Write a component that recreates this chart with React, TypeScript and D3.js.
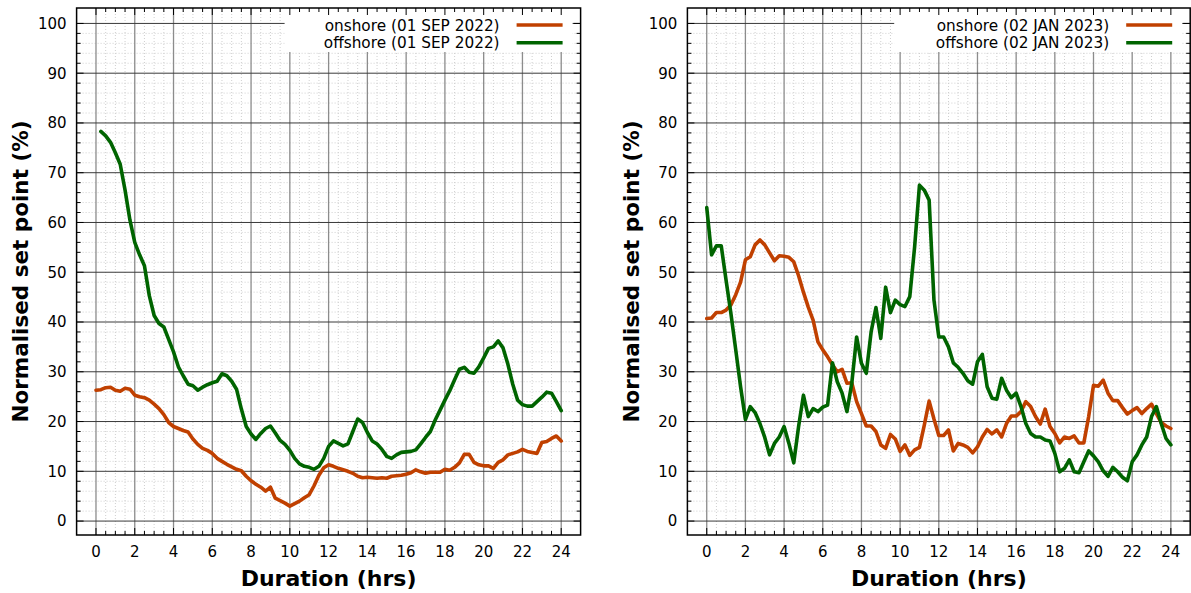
import React from 'react';
import * as d3 from 'd3';

// Sampling interval (hours) of the series
const STEP = 0.25;

// 01 SEP 2022 – onshore starts at 0 h, offshore at 0.25 h
const sepOnshoreStart = 0;
const sepOnshore = [
  26.3, 26.4, 26.8, 26.9, 26.3, 26.1, 26.7, 26.5, 25.3, 25.0, 24.8, 24.3,
  23.5, 22.6, 21.4, 19.8, 19.0, 18.6, 18.2, 17.9, 16.5, 15.4, 14.6, 14.2,
  13.6, 12.6, 12.0, 11.4, 10.9, 10.4, 10.1, 9.0, 8.1, 7.4, 6.8, 6.0,
  6.8, 4.6, 4.1, 3.6, 3.0, 3.5, 4.0, 4.7, 5.3, 7.1, 9.2, 10.7,
  11.3, 11.0, 10.6, 10.3, 10.0, 9.6, 9.0, 8.7, 8.8, 8.7, 8.6, 8.7,
  8.6, 9.0, 9.1, 9.2, 9.4, 9.7, 10.3, 9.9, 9.6, 9.8, 9.8, 9.8,
  10.4, 10.2, 10.8, 11.7, 13.4, 13.4, 11.8, 11.3, 11.1, 11.1, 10.6, 11.8,
  12.3, 13.3, 13.6, 13.9, 14.4, 14.0, 13.8, 13.6, 15.8, 16.0, 16.6, 17.1,
  16.1,
];
const sepOffshoreStart = 0.25;
const sepOffshore = [
  78.3, 77.4, 76.1, 74.0, 71.7, 66.5, 60.5, 56.0, 53.5, 51.3, 45.3,
  41.3, 39.7, 39.0, 36.5, 34.0, 31.0, 29.2, 27.5, 27.2, 26.3, 26.9, 27.4,
  27.8, 28.1, 29.6, 29.2, 28.1, 26.5, 22.5, 19.0, 17.5, 16.4, 17.6, 18.6,
  19.1, 17.7, 16.2, 15.4, 14.2, 12.6, 11.5, 11.0, 10.8, 10.4, 11.0, 12.6,
  15.0, 16.1, 15.6, 15.1, 15.5, 18.0, 20.5, 19.8, 17.8, 16.1, 15.5, 14.4,
  13.0, 12.6, 13.3, 13.8, 13.9, 14.0, 14.3, 15.5, 16.8, 18.0, 20.3, 22.3,
  24.3, 26.2, 28.4, 30.5, 30.9, 29.9, 29.7, 31.0, 32.8, 34.7, 35.0, 36.2,
  34.8, 31.5, 27.5, 24.3, 23.4, 23.1, 23.1, 24.0, 24.9, 25.9, 25.7, 24.0,
  22.2,
];

// 02 JAN 2023 – both start at 0 h
const janOnshoreStart = 0;
const janOnshore = [
  40.7, 40.8, 41.9, 41.9, 42.4, 43.4, 45.5, 48.0, 52.5, 53.1, 55.5, 56.5,
  55.5, 53.9, 52.3, 53.3, 53.2, 53.0, 52.1, 49.3, 46.0, 43.0, 40.4, 36.0,
  34.4, 33.0, 31.4, 30.0, 30.5, 27.7, 27.8, 24.0, 21.6, 19.1, 19.1, 18.0,
  15.3, 14.6, 17.4, 16.5, 14.0, 15.3, 13.2, 14.3, 14.8, 19.3, 24.1, 20.5,
  17.2, 17.2, 18.3, 14.1, 15.6, 15.3, 14.8, 13.7, 14.9, 16.9, 18.4, 17.5,
  18.3, 16.9, 19.6, 21.1, 21.1, 22.0, 24.0, 23.0, 21.0, 19.5, 22.5, 19.0,
  17.6, 15.7, 16.9, 16.6, 17.1, 15.7, 15.7, 21.0, 27.3, 27.1, 28.3, 25.7,
  24.2, 24.2, 22.8, 21.5, 22.2, 22.8, 21.6, 22.6, 23.5, 21.6, 19.8, 19.1,
  18.6,
];
const janOffshoreStart = 0;
const janOffshore = [
  63.0, 53.5, 55.3, 55.3, 48.4, 41.7, 34.4, 27.0, 20.4, 23.0, 21.8, 19.6,
  16.8, 13.3, 15.6, 16.9, 19.0, 15.6, 11.7, 19.0, 25.3, 21.0, 22.6, 22.0,
  22.9, 23.3, 31.8, 28.0, 25.7, 22.0, 27.7, 37.0, 31.7, 29.7, 38.0, 42.9,
  36.7, 47.0, 41.9, 44.4, 43.5, 43.1, 45.1, 55.1, 67.5, 66.5, 64.5, 44.4,
  37.0, 37.0, 35.0, 31.8, 30.9, 29.7, 28.2, 27.5, 32.0, 33.5, 27.0, 24.7,
  24.5, 28.7, 26.3, 24.8, 25.7, 23.0, 19.6, 17.6, 16.9, 16.9, 16.3, 16.1,
  13.6, 9.9, 10.6, 12.3, 9.9, 9.7, 11.9, 14.1, 13.1, 11.9, 10.1, 9.0,
  10.8, 9.9, 8.8, 8.1, 11.9, 13.3, 15.3, 16.9, 21.0, 23.0, 19.6, 16.6,
  15.3,
];

const xTicks = [0, 2, 4, 6, 8, 10, 12, 14, 16, 18, 20, 22, 24];
const yTicks = [0, 10, 20, 30, 40, 50, 60, 70, 80, 90, 100];
const xMinorStep = 0.5;
const yMinorStep = 2;

const xLabel = 'Duration (hrs)';
const yLabel = 'Normalised set point (%)';

const ONSHORE_COLOR = '#c04000';
const OFFSHORE_COLOR = '#006400';
const FONT = '"DejaVu Sans", Verdana, sans-serif';

type Series = { name: string; start: number; values: number[]; color: string };

const panelSep: Series[] = [
  { name: 'onshore (01 SEP 2022)', start: sepOnshoreStart, values: sepOnshore, color: ONSHORE_COLOR },
  { name: 'offshore (01 SEP 2022)', start: sepOffshoreStart, values: sepOffshore, color: OFFSHORE_COLOR },
];
const panelJan: Series[] = [
  { name: 'onshore (02 JAN 2023)', start: janOnshoreStart, values: janOnshore, color: ONSHORE_COLOR },
  { name: 'offshore (02 JAN 2023)', start: janOffshoreStart, values: janOffshore, color: OFFSHORE_COLOR },
];

const TOP = 8;
const BOTTOM = 535;

function Panel({ left, right, series }: { left: number; right: number; series: Series[] }) {
  const x = d3.scaleLinear().domain([-1, 25]).range([left, right]);
  const y = d3.scaleLinear().domain([-2.8, 103.1]).range([BOTTOM, TOP]);

  const xMinor = d3.range(xTicks[0], xTicks[xTicks.length - 1] + 0.001, xMinorStep).filter((v) => Math.abs(v / 2 - Math.round(v / 2)) > 1e-6);
  const yMinor = d3.range(yTicks[0], yTicks[yTicks.length - 1] + 0.001, yMinorStep).filter((v) => v % 10 !== 0);

  const line = d3
    .line<[number, number]>()
    .x((d) => x(d[0]))
    .y((d) => y(d[1]));

  const majLen = 7;
  const minLen = 4;
  const midY = (TOP + BOTTOM) / 2;
  const midX = (left + right) / 2;

  return (
    <g>
      {/* minor grid */}
      {xMinor.map((v) => (
        <line key={'xm' + v} x1={x(v)} x2={x(v)} y1={TOP} y2={BOTTOM} stroke="#cfcfcf" strokeWidth={1} strokeDasharray="1,2" />
      ))}
      {yMinor.map((v) => (
        <line key={'ym' + v} x1={left} x2={right} y1={y(v)} y2={y(v)} stroke="#cfcfcf" strokeWidth={1} strokeDasharray="1,2" />
      ))}
      {/* major grid */}
      {xTicks.map((v) => (
        <line key={'xg' + v} x1={x(v)} x2={x(v)} y1={TOP} y2={BOTTOM} stroke="#8c8c8c" strokeWidth={1.3} />
      ))}
      {yTicks.map((v) => (
        <line key={'yg' + v} x1={left} x2={right} y1={y(v)} y2={y(v)} stroke="#3a3a3a" strokeWidth={1} />
      ))}
      {/* legend background */}
      <rect x={right - 296} y={TOP} width={288} height={44} fill="#ffffff" />
      {/* data */}
      {series.map((s) => (
        <path
          key={s.name}
          d={line(s.values.map((v, i) => [s.start + i * STEP, v] as [number, number])) || ''}
          fill="none"
          stroke={s.color}
          strokeWidth={3.6}
          strokeLinejoin="round"
          strokeLinecap="round"
        />
      ))}
      {/* ticks */}
      {xTicks.map((v) => (
        <g key={'xt' + v}>
          <line x1={x(v)} x2={x(v)} y1={BOTTOM} y2={BOTTOM - majLen} stroke="#000" strokeWidth={1} />
          <line x1={x(v)} x2={x(v)} y1={TOP} y2={TOP + majLen} stroke="#000" strokeWidth={1} />
          <text x={x(v)} y={557} textAnchor="middle" fontSize={15} fontFamily={FONT} fill="#000">
            {v}
          </text>
        </g>
      ))}
      {xMinor.map((v) => (
        <g key={'xmt' + v}>
          <line x1={x(v)} x2={x(v)} y1={BOTTOM} y2={BOTTOM - minLen} stroke="#000" strokeWidth={1} />
          <line x1={x(v)} x2={x(v)} y1={TOP} y2={TOP + minLen} stroke="#000" strokeWidth={1} />
        </g>
      ))}
      {yTicks.map((v) => (
        <g key={'yt' + v}>
          <line x1={left} x2={left + majLen} y1={y(v)} y2={y(v)} stroke="#000" strokeWidth={1} />
          <line x1={right} x2={right - majLen} y1={y(v)} y2={y(v)} stroke="#000" strokeWidth={1} />
          <text x={left - 10} y={y(v)} dy="0.36em" textAnchor="end" fontSize={15} fontFamily={FONT} fill="#000">
            {v}
          </text>
        </g>
      ))}
      {yMinor.map((v) => (
        <g key={'ymt' + v}>
          <line x1={left} x2={left + minLen} y1={y(v)} y2={y(v)} stroke="#000" strokeWidth={1} />
          <line x1={right} x2={right - minLen} y1={y(v)} y2={y(v)} stroke="#000" strokeWidth={1} />
        </g>
      ))}
      {/* frame */}
      <rect x={left} y={TOP} width={right - left} height={BOTTOM - TOP} fill="none" stroke="#000" strokeWidth={1.5} />
      {/* legend */}
      {series.map((s, i) => {
        const ly = 25 + i * 17.7;
        return (
          <g key={'lg' + s.name}>
            <text x={right - 81} y={ly} dy="0.36em" textAnchor="end" fontSize={15.3} fontFamily={FONT} fill="#000">
              {s.name}
            </text>
            <line x1={right - 64} x2={right - 18} y1={ly} y2={ly} stroke={s.color} strokeWidth={3.6} />
          </g>
        );
      })}
      {/* axis titles */}
      <text x={midX} y={586} textAnchor="middle" fontSize={22} fontWeight="bold" fontFamily={FONT} fill="#000">
        {xLabel}
      </text>
      <text
        transform={`translate(${left - 56.5},${midY}) rotate(-90)`}
        textAnchor="middle"
        dy="0.36em"
        fontSize={21.5}
        fontWeight="bold"
        fontFamily={FONT}
        fill="#000"
      >
        {yLabel}
      </text>
    </g>
  );
}

export default function App() {
  return (
    <svg
      width={1191}
      height={593}
      style={{ position: 'absolute', left: 0, top: 0, background: '#fff' }}
      xmlns="http://www.w3.org/2000/svg"
    >
      <rect x={0} y={0} width={1191} height={593} fill="#fff" />
      <Panel left={76.6} right={580.6} series={panelSep} />
      <Panel left={687.4} right={1190.2} series={panelJan} />
    </svg>
  );
}
